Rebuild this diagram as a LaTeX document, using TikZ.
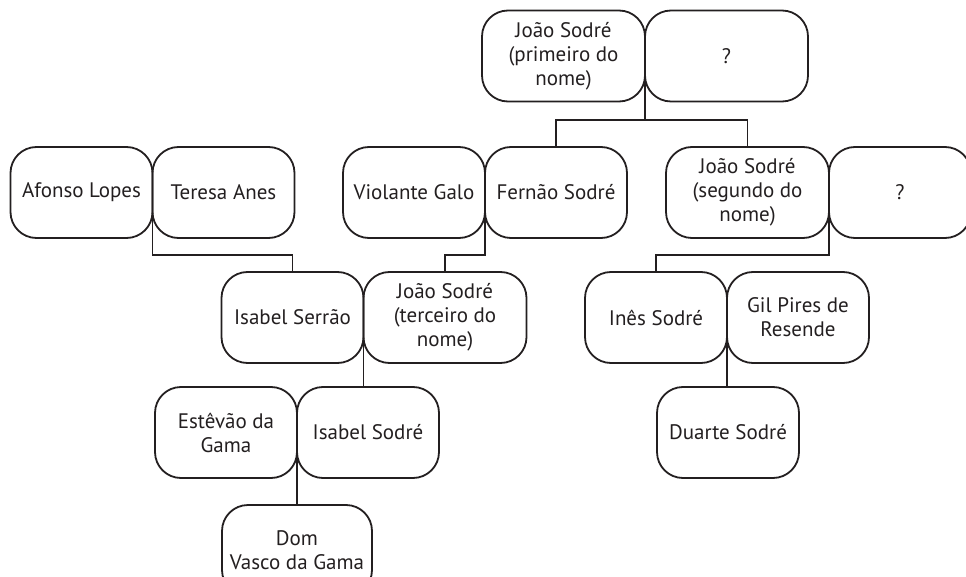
\documentclass[tikz,border=0pt]{standalone}
\usepackage{fontspec}
\setmainfont{PT Sans}
\usetikzlibrary{positioning}
\definecolor{tinta}{HTML}{231F20}

\begin{document}
\begin{tikzpicture}[x=1pt,y=-1pt,
                pessoa/.style={draw=tinta,line width=1.8pt,rounded corners=26pt,outer sep=0pt,
                    minimum width=142pt,minimum height=91pt,inner sep=0pt,align=center,
                    text=tinta,font=\fontsize{21}{24}\selectfont},
                largo/.style={pessoa,minimum width=163pt},
                liga/.style={draw=tinta,line width=1.8pt}]
                \clip (0,0) rectangle (966,577);
                \useasboundingbox (0,0) rectangle (966,577);
                % primeira geracao
                \node[largo] (joao1) at (563.5,56) {João Sodré\\(primeiro do\\nome)};
                \node[largo,right=0pt of joao1] (esposa1) {?};
                % segunda geracao
                \node[pessoa] (afonso) at (81.5,192.5) {Afonso Lopes};
                \node[pessoa,right=0pt of afonso] (teresa) {Teresa Anes};
                \node[pessoa] (violante) at (414,192.5) {Violante Galo};
                \node[pessoa,right=0pt of violante] (fernao) {Fernão Sodré};
                \node[largo] (joao2) at (747.5,192.5) {João Sodré\\(segundo do\\nome)};
                \node[pessoa,right=0pt of joao2] (esposa2) {?};
                % terceira geracao
                \node[pessoa] (serrao) at (292.5,317.5) {Isabel Serrão};
                \node[largo,right=0pt of serrao] (joao3) {João Sodré\\(terceiro do\\nome)};
                \node[pessoa] (ines) at (656,317.5) {Inês Sodré};
                \node[pessoa,right=0pt of ines] (gil) {Gil Pires de\\Resende};
                % quarta geracao
                \node[pessoa] (estevao) at (226,432.5) {Estêvão da\\Gama};
                \node[pessoa,right=0pt of estevao] (isabel) {Isabel Sodré};
                \node[pessoa] (duarte) at (728,432.5) {Duarte Sodré};
                \node[pessoa,minimum width=150pt] (vasco) at (297,550.5) {Dom\\Vasco da Gama};
                % ligacoes
                \draw[liga] (joao1.east) -- ++(0,64) -| (fernao.north);
                \draw[liga] (joao1.east) -- ++(0,64) -| (joao2.north);
                \draw[liga] (afonso.east) -- ++(0,62.5) -| (serrao.north);
                \draw[liga] (violante.east) -- ++(0,62.5) -| (joao3.north);
                \draw[liga] (joao2.east) -- ++(0,62.5) -| (ines.north);
                \draw[liga] (serrao.east) -- (serrao.east |- isabel.north);
                \draw[liga] (ines.east) -- (ines.east |- duarte.north);
                \draw[liga] (estevao.east) -- (estevao.east |- vasco.north);
            \end{tikzpicture}
\end{document}
